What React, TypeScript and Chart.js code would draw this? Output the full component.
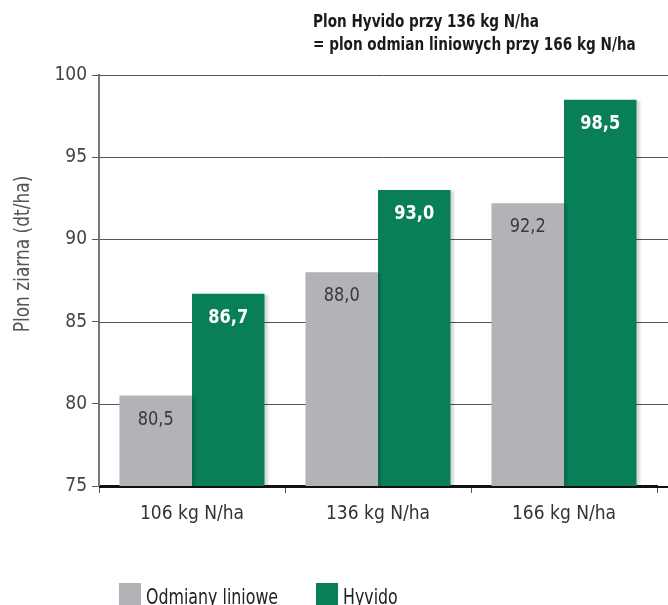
import React, { useEffect, useRef } from "react";
import { Chart, registerables } from "chart.js";

Chart.register(...registerables);

const categories = ["106 kg N/ha", "136 kg N/ha", "166 kg N/ha"];
const seriesNames = ["Odmiany liniowe", "Hyvido"];
const liniowe = [80.5, 88.0, 92.2];
const hyvido = [86.7, 93.0, 98.5];
const yTicks = [75, 80, 85, 90, 95, 100];
const titleLines = ["Plon Hyvido przy 136 kg N/ha", "= plon odmian liniowych przy 166 kg N/ha"];
const yTitle = "Plon ziarna (dt/ha)";

const GRAY = "#b2b3b6";
const GREEN = "#087f59";
const FONT = "'Liberation Sans Narrow', 'DejaVu Sans Condensed', 'Roboto', sans-serif";

const fmt = (v: number) => v.toFixed(1).replace(".", ",");

function scaledText(ctx: any, text: string, x: number, y: number, sx: number, align: string) {
  ctx.save();
  ctx.translate(x, y);
  ctx.scale(sx, 1);
  ctx.textAlign = align;
  ctx.fillText(text, 0, 0);
  ctx.restore();
}

const overlay = {
  id: "overlay",
  beforeDatasetsDraw(chart: any) {
    const { ctx, chartArea } = chart;
    const y = chart.scales.y;
    ctx.save();
    ctx.strokeStyle = "#555";
    ctx.lineWidth = 1;
    yTicks.forEach((t) => {
      if (t === 75) return;
      const py = Math.round(y.getPixelForValue(t)) + 0.5;
      ctx.beginPath();
      ctx.moveTo(chartArea.left, py);
      ctx.lineTo(chart.width, py);
      ctx.stroke();
    });
    ctx.restore();
    ctx.shadowColor = "rgba(0,0,0,0.15)";
    ctx.shadowOffsetX = 3;
    ctx.shadowOffsetY = 1;
    ctx.shadowBlur = 2;
  },
  afterDatasetsDraw(chart: any) {
    const { ctx, chartArea } = chart;
    ctx.shadowColor = "rgba(0,0,0,0)";
    ctx.shadowOffsetX = 0;
    ctx.shadowOffsetY = 0;
    ctx.shadowBlur = 0;
    ctx.save();
    ctx.strokeStyle = "#111";
    ctx.lineWidth = 2;
    ctx.beginPath();
    ctx.moveTo(chartArea.left, chartArea.bottom + 1);
    ctx.lineTo(chart.width, chartArea.bottom + 1);
    ctx.stroke();

    ctx.textBaseline = "middle";
    chart.data.datasets.forEach((ds: any, di: number) => {
      const meta = chart.getDatasetMeta(di);
      meta.data.forEach((bar: any, i: number) => {
        const v = ds.data[i];
        if (di === 0) {
          ctx.fillStyle = "#3a3a3a";
          ctx.font = `20px ${FONT}`;
        } else {
          ctx.fillStyle = "#ffffff";
          ctx.font = `bold 20px ${FONT}`;
        }
        scaledText(ctx, fmt(v), bar.x, bar.y + 24, 0.9, "center");
      });
    });
    ctx.fillStyle = "#1a1a1a";
    ctx.font = `bold 17px ${FONT}`;
    scaledText(ctx, titleLines[0], 313, 23, 0.89, "left");
    scaledText(ctx, titleLines[1], 313, 46, 0.89, "left");
    ctx.save();
    ctx.translate(24, 254);
    ctx.rotate(-Math.PI / 2);
    ctx.fillStyle = "#555";
    ctx.font = `21px ${FONT}`;
    scaledText(ctx, yTitle, 0, 0, 0.9, "center");
    ctx.restore();
    const colors = [GRAY, GREEN];
    const xs = [119, 316];
    ctx.font = `22px ${FONT}`;
    seriesNames.forEach((n, i) => {
      ctx.fillStyle = colors[i];
      ctx.fillRect(xs[i], 583, 22, 22);
      ctx.fillStyle = "#222";
      ctx.textBaseline = "middle";
      scaledText(ctx, n, xs[i] + 27, 598, 0.8, "left");
    });
    ctx.restore();
  },
};

export default function App() {
  const ref = useRef<HTMLCanvasElement>(null);
  useEffect(() => {
    document.body.style.margin = "0";
    const chart = new Chart(ref.current!, {
      type: "bar",
      data: {
        labels: categories,
        datasets: [
          { label: seriesNames[0], data: liniowe, backgroundColor: GRAY, barPercentage: 1, categoryPercentage: 0.78 },
          { label: seriesNames[1], data: hyvido, backgroundColor: GREEN, barPercentage: 1, categoryPercentage: 0.78 },
        ],
      },
      options: {
        responsive: false,
        animation: false,
        layout: { padding: { top: 75, right: 11, left: 0, bottom: 0 } },
        plugins: { legend: { display: false }, title: { display: false }, tooltip: { enabled: false } },
        scales: {
          x: {
            grid: { offset: true, drawOnChartArea: false, tickLength: 7, color: "#555", lineWidth: 1 },
            border: { color: "#111", width: 2 },
            ticks: { color: "#333", font: { family: FONT, size: 19 }, padding: 10 },
            afterFit(scale: any) {
              scale.height = 119;
            },
          },
          y: {
            min: 75,
            max: 100,
            afterBuildTicks(scale: any) {
              scale.ticks = yTicks.map((v) => ({ value: v }));
            },
            grid: { color: "#555", lineWidth: 1, tickLength: 7, drawOnChartArea: false },
            border: { color: "#777", width: 2 },
            ticks: { color: "#444", font: { family: FONT, size: 19 }, padding: 5 },
            afterFit(scale: any) {
              scale.width = 99;
            },
          },
        },
      },
      plugins: [overlay],
    });
    return () => chart.destroy();
  }, []);
  return (
    <div style={{ position: "absolute", left: 0, top: 0, width: 668, height: 605 }}>
      <canvas ref={ref} width={668} height={605} style={{ width: 668, height: 605, display: "block" }} />
    </div>
  );
}
